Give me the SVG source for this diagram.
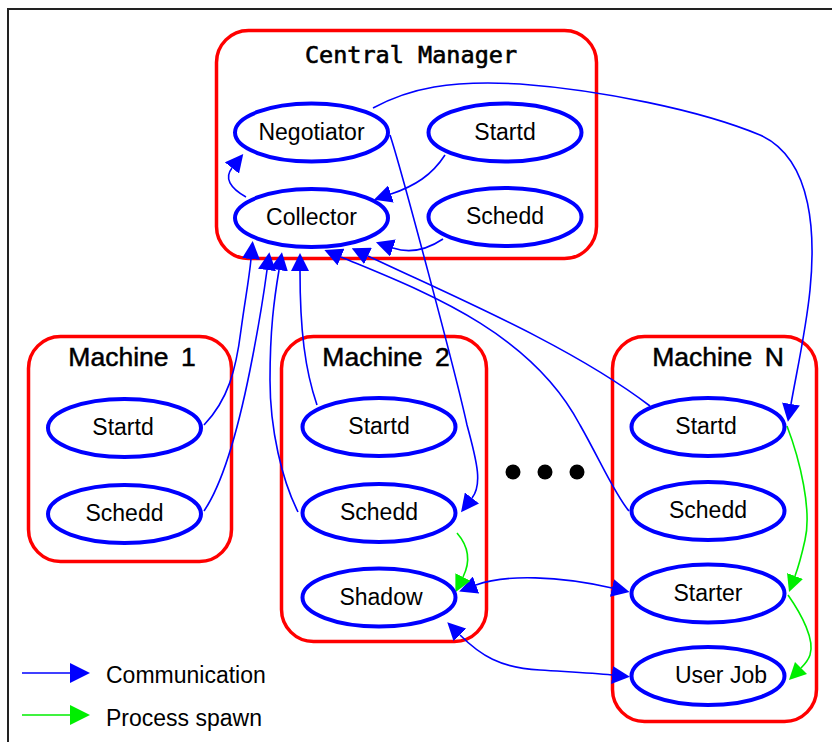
<svg xmlns="http://www.w3.org/2000/svg" width="832" height="742" viewBox="0 0 832 742">
  <style>
    .frame { fill: none; stroke: #222; stroke-width: 2; }
    .cluster { fill: none; stroke: #ff0000; stroke-width: 3.5; }
    .node { fill: #ffffff; stroke: #0000ff; stroke-width: 4; }
    .label { font-family: "Liberation Sans", Arial, sans-serif; font-size: 23px; fill: #000; text-anchor: middle; }
    .ctitle { font-family: "Liberation Sans", Arial, sans-serif; font-size: 26.5px; fill: #000; stroke: #000; stroke-width: 0.5; text-anchor: middle; word-spacing: 5px; }
    .mtitle { font-family: "DejaVu Sans Mono", "Liberation Mono", monospace; font-size: 23.5px; fill: #000; stroke: #000; stroke-width: 0.6; text-anchor: middle; }
    .comm { fill: none; stroke: #0000ff; stroke-width: 1.6; }
    .spawn { fill: none; stroke: #00ee00; stroke-width: 1.6; }
    .legend { font-family: "Liberation Sans", Arial, sans-serif; font-size: 23px; fill: #000; }
  </style>
  <defs>
    <marker id="ah-blue" viewBox="0 0 18 18" refX="0" refY="9" markerWidth="18" markerHeight="18" markerUnits="userSpaceOnUse" orient="auto-start-reverse">
      <path d="M0,0 L18,9 L0,18 z" fill="#0000ff"/>
    </marker>
    <marker id="ah-green" viewBox="0 0 17 17" refX="0" refY="8.5" markerWidth="17" markerHeight="17" markerUnits="userSpaceOnUse" orient="auto-start-reverse">
      <path d="M0,0 L17,8.5 L0,17 z" fill="#00ee00"/>
    </marker>
    <marker id="ah-blue-lg" viewBox="0 0 20 20" refX="0" refY="10" markerWidth="20" markerHeight="20" markerUnits="userSpaceOnUse" orient="auto">
      <path d="M0,0 L20,10 L0,20 z" fill="#0000ff"/>
    </marker>
    <marker id="ah-green-lg" viewBox="0 0 20 20" refX="0" refY="10" markerWidth="20" markerHeight="20" markerUnits="userSpaceOnUse" orient="auto">
      <path d="M0,0 L20,10 L0,20 z" fill="#00ee00"/>
    </marker>
  </defs>

  <rect width="832" height="742" fill="#ffffff"/>
  <rect class="frame" x="8" y="9" width="840" height="750"/>

  <!-- clusters -->
  <g id="central-manager">
    <rect class="cluster" x="216.5" y="30.5" width="380" height="228" rx="32"/>
    <text class="mtitle" x="411" y="63">Central Manager</text>
  </g>
  <g id="machine-1">
    <rect class="cluster" x="28.5" y="336.5" width="203" height="225" rx="32"/>
    <text class="ctitle" x="132" y="366">Machine 1</text>
  </g>
  <g id="machine-2">
    <rect class="cluster" x="281.5" y="336.5" width="205" height="305" rx="32"/>
    <text class="ctitle" x="386" y="366">Machine 2</text>
  </g>
  <g id="machine-n">
    <rect class="cluster" x="612.5" y="336.5" width="204" height="385" rx="32"/>
    <text class="ctitle" x="718" y="366">Machine N</text>
  </g>

  <!-- connectors -->
  <g id="connectors">
    <!-- central manager internals -->
    <path class="comm" d="M246,197 C230,188 224,178 232,168" marker-end="url(#ah-blue)"/>
    <path class="comm" d="M445,155 C432,175 415,186 391,194" marker-end="url(#ah-blue)"/>
    <path class="comm" d="M443,239 C425,251 408,253 393,248" marker-end="url(#ah-blue)"/>
    <!-- negotiator to remote daemons -->
    <path class="comm" d="M373,108 C410,88 450,80 520,84 C600,90 700,110 760,135 C815,160 815,240 810,290 C806,330 797,370 791,404" marker-end="url(#ah-blue)"/>
    <path class="comm" d="M390,135 C400,165 455,370 467,425 C478,465 482,485 472,498" marker-end="url(#ah-blue)"/>
    <!-- daemons reporting to collector -->
    <path class="comm" d="M204,425 C228,400 236,370 241,330 C245,300 249,280 251,259" marker-end="url(#ah-blue)"/>
    <path class="comm" d="M204,511 C225,480 240,420 250,370 C258,330 263,300 267,270" marker-end="url(#ah-blue)"/>
    <path class="comm" d="M298,512 C282,480 270,430 270,380 C270,330 274,300 279,270" marker-end="url(#ah-blue)"/>
    <path class="comm" d="M317,405 C305,370 300,330 300,271" marker-end="url(#ah-blue)"/>
    <path class="comm" d="M650,406 C570,345 450,295 368,256" marker-end="url(#ah-blue)"/>
    <path class="comm" d="M629,511 C615,495 600,460 580,425 C530,330 420,290 341,257" marker-end="url(#ah-blue)"/>
    <!-- shadow / starter / user job -->
    <path class="comm" d="M476,585 C505,574 560,576 612,588" marker-start="url(#ah-blue)" marker-end="url(#ah-blue)"/>
    <path class="comm" d="M460,635 C480,655 500,668 540,670 C570,672 590,673 612,675" marker-start="url(#ah-blue)" marker-end="url(#ah-blue)"/>
    <!-- process spawns -->
    <path class="spawn" d="M457,533 C470,548 470,563 463,577" marker-end="url(#ah-green)"/>
    <path class="spawn" d="M787,426 C800,460 812,510 805,540 C801,558 798,568 795,576" marker-end="url(#ah-green)"/>
    <path class="spawn" d="M788,595 C802,615 815,640 810,655 C808,661 805,664 801,668" marker-end="url(#ah-green)"/>
  </g>

  <!-- nodes -->
  <g id="cm-negotiator">
    <ellipse class="node" cx="311.5" cy="132.5" rx="76.5" ry="29"/>
    <text class="label" x="311.5" y="139.5">Negotiator</text>
  </g>
  <g id="cm-startd">
    <ellipse class="node" cx="505" cy="132.5" rx="76.5" ry="29"/>
    <text class="label" x="505" y="139.5">Startd</text>
  </g>
  <g id="cm-collector">
    <ellipse class="node" cx="311.5" cy="218" rx="76.5" ry="29"/>
    <text class="label" x="311.5" y="225">Collector</text>
  </g>
  <g id="cm-schedd">
    <ellipse class="node" cx="505" cy="217" rx="76.5" ry="29"/>
    <text class="label" x="505" y="224">Schedd</text>
  </g>

  <g id="m1-startd">
    <ellipse class="node" cx="124.5" cy="428" rx="76.5" ry="29"/>
    <text class="label" x="123" y="435">Startd</text>
  </g>
  <g id="m1-schedd">
    <ellipse class="node" cx="124.5" cy="514" rx="76.5" ry="29"/>
    <text class="label" x="124.5" y="521">Schedd</text>
  </g>

  <g id="m2-startd">
    <ellipse class="node" cx="379" cy="427" rx="76.5" ry="29"/>
    <text class="label" x="379" y="434">Startd</text>
  </g>
  <g id="m2-schedd">
    <ellipse class="node" cx="379" cy="513" rx="76.5" ry="29"/>
    <text class="label" x="379" y="520">Schedd</text>
  </g>
  <g id="m2-shadow">
    <ellipse class="node" cx="379" cy="597.5" rx="76.5" ry="29"/>
    <text class="label" x="381" y="604.5">Shadow</text>
  </g>

  <g id="mn-startd">
    <ellipse class="node" cx="708" cy="427" rx="76.5" ry="29"/>
    <text class="label" x="706" y="434">Startd</text>
  </g>
  <g id="mn-schedd">
    <ellipse class="node" cx="708" cy="511" rx="76.5" ry="29"/>
    <text class="label" x="708" y="518">Schedd</text>
  </g>
  <g id="mn-starter">
    <ellipse class="node" cx="708" cy="593.5" rx="76.5" ry="29"/>
    <text class="label" x="708" y="600.5">Starter</text>
  </g>
  <g id="mn-userjob">
    <ellipse class="node" cx="708" cy="676" rx="76.5" ry="29"/>
    <text class="label" x="721" y="683">User Job</text>
  </g>

  <!-- ellipsis between machines -->
  <g id="more-machines" fill="#000">
    <circle cx="513" cy="472" r="7.5"/>
    <circle cx="545" cy="472" r="7.5"/>
    <circle cx="577" cy="472" r="7.5"/>
  </g>

  <!-- legend -->
  <g id="legend">
    <path class="comm" d="M22,673 L70,673" marker-end="url(#ah-blue-lg)"/>
    <text class="legend" x="106" y="683">Communication</text>
    <path class="spawn" d="M22,715 L70,715" marker-end="url(#ah-green-lg)"/>
    <text class="legend" x="106" y="726">Process spawn</text>
  </g>
</svg>
